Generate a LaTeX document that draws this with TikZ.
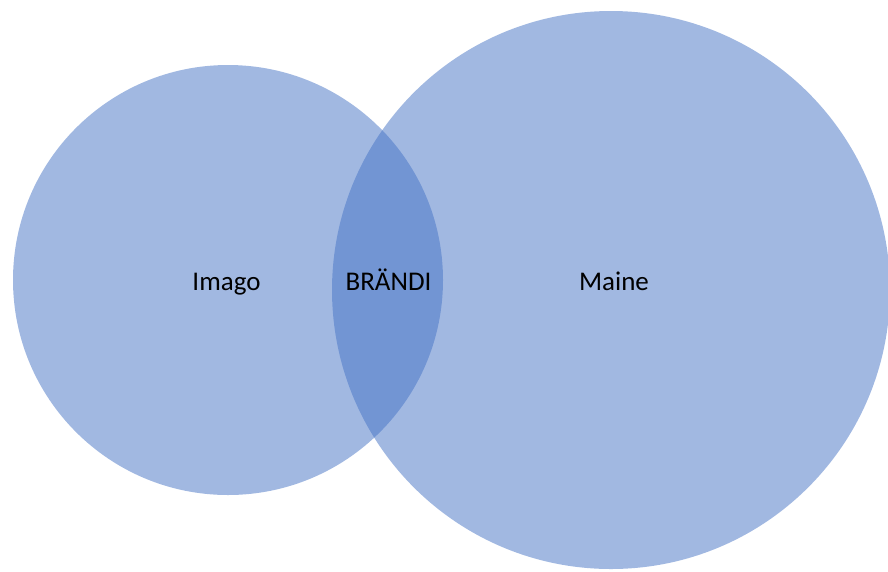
\documentclass[tikz,border=0pt]{standalone}
\usepackage{fontspec}
\setmainfont{Carlito}
\definecolor{accent}{RGB}{68,114,196}
\begin{document}
\begin{tikzpicture}[x=1pt,y=-1pt,
  setcircle/.style={circle,draw=none,inner sep=0pt,fill=accent,fill opacity=0.5},
  lbl/.style={font=\fontsize{27}{32}\selectfont,text=black,anchor=base,inner sep=0pt}]
\useasboundingbox (0,0) rectangle (888,571);
\node[setcircle,minimum size=430pt] (left) at (228,280) {};
\node[setcircle,minimum size=558pt] (right) at (611,290) {};
\node[lbl] (imago) at (226.5,290) {Imago};
\node[lbl] (brandi) at (388.5,290) {BRÄNDI};
\node[lbl] (maine) at (614,290) {Maine};
\end{tikzpicture}
\end{document}
